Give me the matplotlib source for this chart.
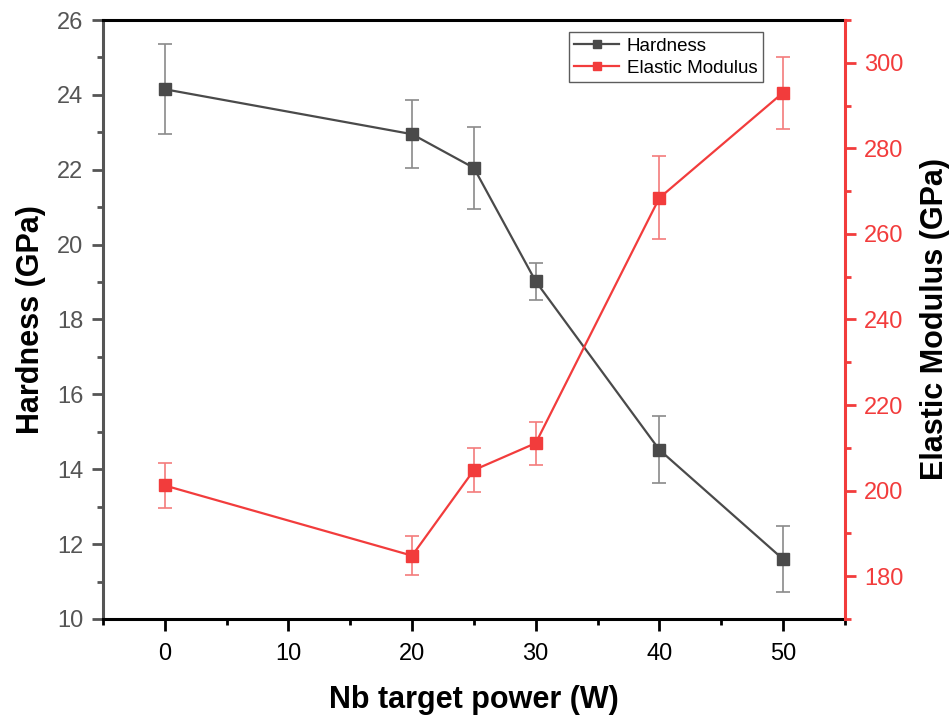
import numpy as np
import matplotlib
matplotlib.use("Agg")
from matplotlib import pyplot as plt
from matplotlib.lines import Line2D
from matplotlib.ticker import MultipleLocator

plt.rcParams['font.family'] = ['Liberation Sans', 'DejaVu Sans']

power = [0, 20, 25, 30, 40, 50]
hardness = [24.15, 22.95, 22.05, 19.02, 14.52, 11.6]
hardness_err = [1.2, 0.9, 1.1, 0.5, 0.9, 0.88]
modulus = [201.2, 184.8, 204.8, 211.1, 268.4, 293.0]
modulus_err = [5.2, 4.5, 5.2, 5.0, 9.7, 8.4]

gray = '#4a4a4a'
red = '#f23c3c'

fig = plt.figure(figsize=(9.51, 7.17), dpi=100)
ax = fig.add_axes([0.1083, 0.1367, 0.78, 0.8354])
ax2 = ax.twinx()

ax.errorbar(power, hardness, yerr=hardness_err, color=gray, marker='s', markersize=8,
            linewidth=1.6, capsize=5, elinewidth=1.2, capthick=1.2, ecolor='#8a8a8a')
ax2.errorbar(power, modulus, yerr=modulus_err, color=red, marker='s', markersize=8,
             linewidth=1.6, capsize=5, elinewidth=1.2, capthick=1.2, ecolor='#f47c7c')

ax.set_xlim(-5, 55)
ax.set_ylim(10, 26)
ax2.set_ylim(170, 310)

ax.xaxis.set_major_locator(MultipleLocator(10))
ax.xaxis.set_minor_locator(MultipleLocator(5))
ax.yaxis.set_major_locator(MultipleLocator(2))
ax.yaxis.set_minor_locator(MultipleLocator(1))
ax2.yaxis.set_major_locator(MultipleLocator(20))
ax2.yaxis.set_minor_locator(MultipleLocator(10))

ax.tick_params(axis='x', which='major', direction='out', length=8.5, width=2, colors='black',
               labelsize=17, pad=9)
ax.tick_params(axis='x', which='minor', direction='out', length=4, width=2, colors='black')
ax.tick_params(axis='y', which='major', direction='out', length=8, width=2, colors='#555555',
               labelsize=17, pad=6)
ax.tick_params(axis='y', which='minor', direction='out', length=4, width=2, colors='#555555')
ax2.tick_params(axis='y', which='major', direction='out', length=8, width=2, colors=red,
                labelsize=17, pad=6)
ax2.tick_params(axis='y', which='minor', direction='out', length=4, width=2, colors=red)

for s in ['top', 'bottom']:
    ax.spines[s].set_color('black')
    ax.spines[s].set_linewidth(2.2)
ax.spines['left'].set_color('#555555')
ax.spines['left'].set_linewidth(2.2)
ax.spines['right'].set_visible(False)
for s in ['top', 'bottom', 'left']:
    ax2.spines[s].set_visible(False)
ax2.spines['right'].set_color(red)
ax2.spines['right'].set_linewidth(2.2)

ax.set_xlabel('Nb target power (W)', fontsize=22, fontweight='bold', labelpad=14)
ax.set_ylabel('Hardness (GPa)', fontsize=22, fontweight='bold', labelpad=8)
ax2.set_ylabel('Elastic Modulus (GPa)', fontsize=22, fontweight='bold', labelpad=12)

handles = [
    Line2D([], [], color=gray, marker='s', markersize=6, linewidth=1.6),
    Line2D([], [], color=red, marker='s', markersize=6, linewidth=1.6),
]
leg = ax2.legend(handles, ['Hardness', 'Elastic Modulus'], loc='upper left',
                 bbox_to_anchor=(0.628, 0.98), fontsize=13.5, frameon=True,
                 fancybox=False, edgecolor='#333333', handlelength=2.4,
                 handletextpad=0.4, borderpad=0.3, labelspacing=0.25,
                 borderaxespad=0)
leg.get_frame().set_linewidth(1.0)

fig.savefig('out.png', dpi=100)
